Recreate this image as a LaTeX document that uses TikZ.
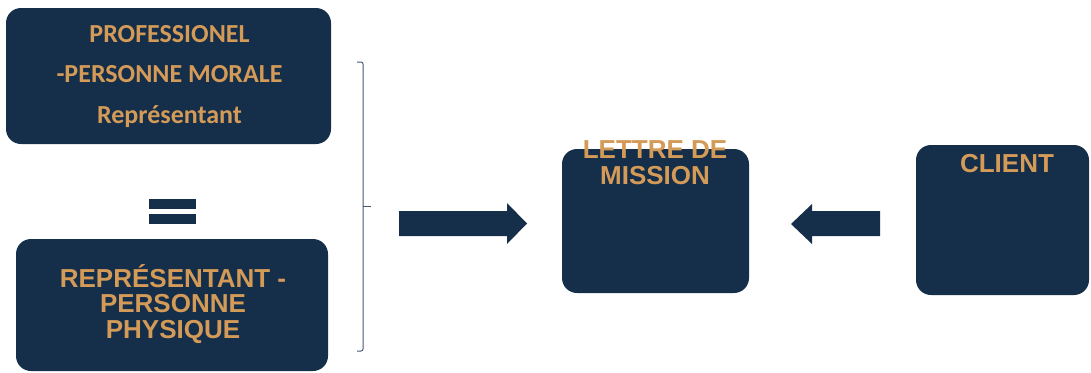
\documentclass[tikz,border=0pt]{standalone}
\usepackage{fontspec}
\setmainfont{Liberation Sans}
\newfontfamily\calibri{Carlito}
\definecolor{navy}{RGB}{21,46,74}
\definecolor{gold}{RGB}{212,155,88}

\begin{document}
\begin{tikzpicture}
	 [x=1pt,y=-1pt,every node/.style={inner sep=0pt,text=gold,align=center},
	  box/.style={fill=navy,rounded corners=15pt},
	  txt/.style={anchor=base,font=\bfseries\fontsize{26}{25.5}\selectfont}]
	\useasboundingbox (0,0) rectangle (1091,372);

%	boxes
	  \node[box,minimum width=325pt,minimum height=136pt] (pro) at (168.5,76) {};
	  \node[box,minimum width=312pt,minimum height=132pt] (phys) at (172,305) {};
	  \node[box,minimum width=187pt,minimum height=144pt] (lettre) at (655.5,221) {};
	  \node[box,minimum width=173pt,minimum height=150pt] (client) at (1002.5,220) {};

%	texts (base = last line)
	  \node[txt,font=\calibri\bfseries\fontsize{26}{40.5}\selectfont] (protxt) at (169.5,123)
	    {PROFESSIONEL\\-PERSONNE MORALE\\Représentant};
	  \node[txt] (phystxt) at (173,338) {REPRÉSENTANT -\\PERSONNE\\PHYSIQUE};
	  \node[txt] (lettretxt) at (655,184) {LETTRE DE\\MISSION};
	  \node[txt] (clienttxt) at (1007,172) {CLIENT};

%	equals sign
	\foreach \y in {199,214}
	  \fill[navy] (149,\y) rectangle ++(47,10);

%	brace
	\draw[navy!80,line width=1pt,rounded corners=2pt] (357,62) -- (363,62) -- (363,351) -- (357,351);
	\draw[navy!80,line width=1pt] (363,206) -- (371,206);

%	arrows
	\fill[navy] (399,211) -- ++(108,0) -- ++(0,-8) -- ++(20,20.5) -- ++(-20,20.5) -- ++(0,-8) -- ++(-108,0) -- cycle;
	\fill[navy] (880,211) -- ++(-68,0) -- ++(0,-7) -- ++(-21,20) -- ++(21,20) -- ++(0,-8) -- ++(68,0) -- cycle;

\end{tikzpicture}
\end{document}
